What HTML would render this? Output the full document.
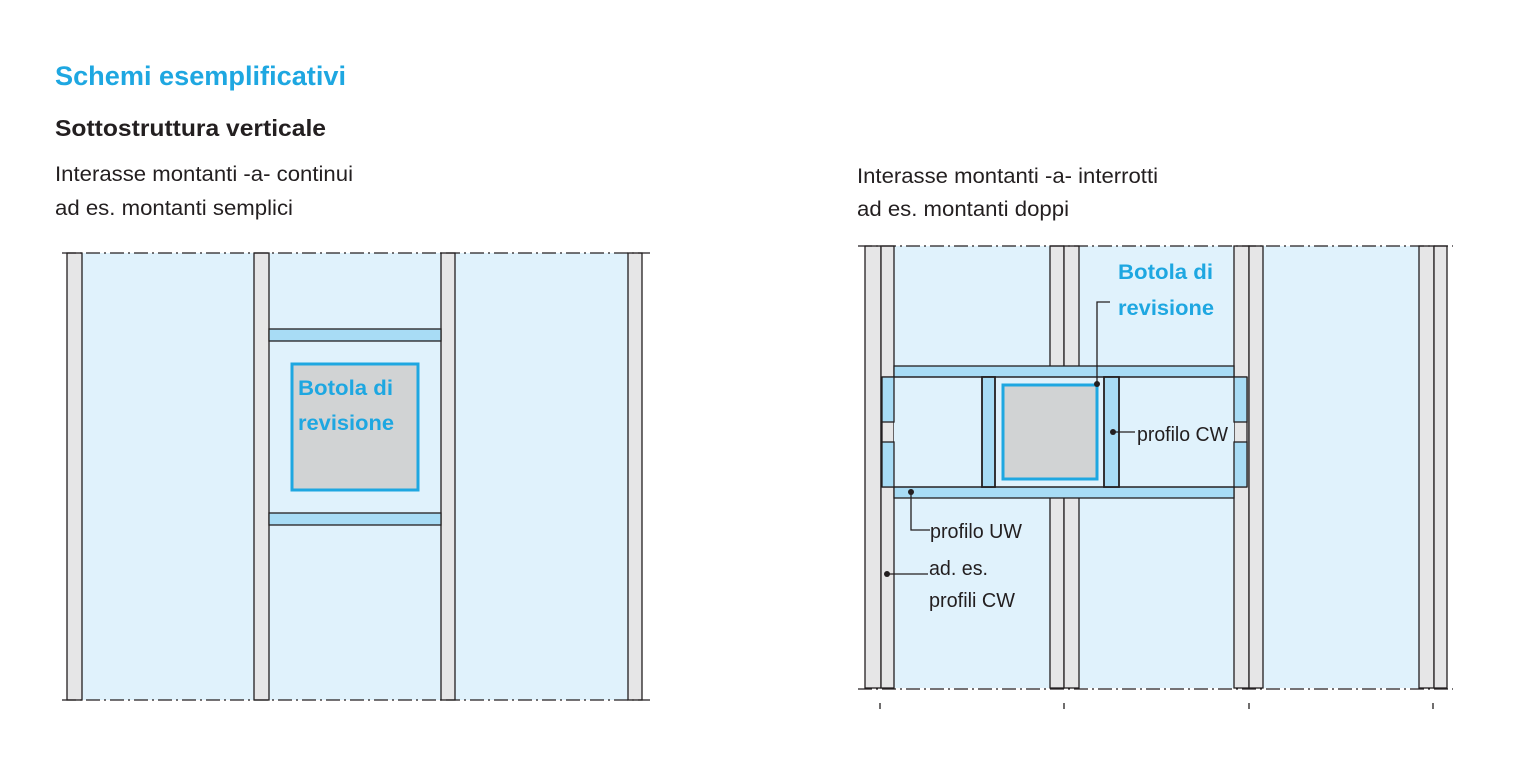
<!DOCTYPE html>
<html><head><meta charset="utf-8"><style>
html,body{margin:0;padding:0;background:#fff;}
svg{display:block;}
text{font-family:"Liberation Sans",Arial,sans-serif;}
</style></head><body>
<svg width="1530" height="776" viewBox="0 0 1530 776" xmlns="http://www.w3.org/2000/svg">
<rect width="1530" height="776" fill="#fff"/>
<!-- headings -->
<text x="55" y="85" font-size="27" font-weight="bold" fill="#1ea7e1" textLength="291" lengthAdjust="spacingAndGlyphs">Schemi esemplificativi</text>
<text x="55" y="136" font-size="23" font-weight="bold" fill="#231f20" textLength="271" lengthAdjust="spacingAndGlyphs">Sottostruttura verticale</text>
<text x="55" y="181" font-size="21" fill="#231f20" textLength="298" lengthAdjust="spacingAndGlyphs">Interasse montanti -a- continui</text>
<text x="55" y="215" font-size="21" fill="#231f20" textLength="238" lengthAdjust="spacingAndGlyphs">ad es. montanti semplici</text>
<text x="857" y="183" font-size="21" fill="#231f20" textLength="301" lengthAdjust="spacingAndGlyphs">Interasse montanti -a- interrotti</text>
<text x="857" y="216" font-size="21" fill="#231f20" textLength="212" lengthAdjust="spacingAndGlyphs">ad es. montanti doppi</text>

<!-- LEFT DIAGRAM -->
<g stroke="#231f20" stroke-width="1.3">
<rect x="82" y="253" width="172" height="447" fill="#e0f2fc" stroke="none"/>
<rect x="269" y="253" width="172" height="447" fill="#e0f2fc" stroke="none"/>
<rect x="455" y="253" width="173" height="447" fill="#e0f2fc" stroke="none"/>
<rect x="67" y="253" width="15" height="447" fill="#e6e6e7"/>
<rect x="254" y="253" width="15" height="447" fill="#e6e6e7"/>
<rect x="441" y="253" width="14" height="447" fill="#e6e6e7"/>
<rect x="628" y="253" width="14" height="447" fill="#e6e6e7"/>
<rect x="269" y="329" width="172" height="12" fill="#a8dcf5"/>
<rect x="269" y="513" width="172" height="12" fill="#a8dcf5"/>
<line x1="62" y1="253" x2="650" y2="253" stroke-dasharray="14,4,2,4"/>
<line x1="62" y1="700" x2="650" y2="700" stroke-dasharray="14,4,2,4"/>
</g>
<rect x="292" y="364" width="126" height="126" fill="#d1d3d4" stroke="#1ea7e1" stroke-width="3"/>
<text x="298" y="395" font-size="21" font-weight="bold" fill="#1ea7e1" textLength="95" lengthAdjust="spacingAndGlyphs">Botola di</text>
<text x="298" y="430" font-size="21" font-weight="bold" fill="#1ea7e1" textLength="96" lengthAdjust="spacingAndGlyphs">revisione</text>

<!-- RIGHT DIAGRAM -->
<g stroke="#231f20" stroke-width="1.3">
<rect x="894" y="246" width="156" height="442" fill="#e0f2fc" stroke="none"/>
<rect x="1079" y="246" width="155" height="442" fill="#e0f2fc" stroke="none"/>
<rect x="1263" y="246" width="156" height="442" fill="#e0f2fc" stroke="none"/>
<rect x="865" y="246" width="16" height="442" fill="#e6e6e7"/>
<rect x="881" y="246" width="13" height="442" fill="#e6e6e7"/>
<rect x="1050" y="246" width="14" height="442" fill="#e6e6e7"/>
<rect x="1064" y="246" width="15" height="442" fill="#e6e6e7"/>
<rect x="1234" y="246" width="15" height="442" fill="#e6e6e7"/>
<rect x="1249" y="246" width="14" height="442" fill="#e6e6e7"/>
<rect x="1419" y="246" width="15" height="442" fill="#e6e6e7"/>
<rect x="1434" y="246" width="13" height="442" fill="#e6e6e7"/>
<!-- band -->
<rect x="894" y="366" width="340" height="132" fill="#e0f2fc" stroke="none"/>
<rect x="894" y="366" width="340" height="11" fill="#a8dcf5"/>
<rect x="894" y="487" width="340" height="11" fill="#a8dcf5"/>
<line x1="882" y1="377" x2="1247" y2="377"/>
<line x1="882" y1="487" x2="1247" y2="487"/>
<line x1="882" y1="377" x2="882" y2="487"/>
<line x1="1247" y1="377" x2="1247" y2="487"/>
<rect x="882" y="377" width="12" height="45" fill="#a8dcf5"/>
<rect x="882" y="442" width="12" height="45" fill="#a8dcf5"/>
<rect x="1234" y="377" width="13" height="45" fill="#a8dcf5"/>
<rect x="1234" y="442" width="13" height="45" fill="#a8dcf5"/>
<rect x="982" y="377" width="13" height="110" fill="#a8dcf5" stroke-width="1.8"/>
<rect x="1104" y="377" width="15" height="110" fill="#a8dcf5" stroke-width="1.8"/>
<line x1="858" y1="246" x2="1453" y2="246" stroke-dasharray="14,4,2,4"/>
<line x1="858" y1="689" x2="1453" y2="689" stroke-dasharray="14,4,2,4"/>
<line x1="880" y1="703" x2="880" y2="709"/>
<line x1="1064" y1="703" x2="1064" y2="709"/>
<line x1="1249" y1="703" x2="1249" y2="709"/>
<line x1="1433" y1="703" x2="1433" y2="709"/>
</g>
<rect x="1003" y="385" width="94" height="94" fill="#d1d3d4" stroke="#1ea7e1" stroke-width="3"/>
<text x="1118" y="279" font-size="21" font-weight="bold" fill="#1ea7e1" textLength="95" lengthAdjust="spacingAndGlyphs">Botola di</text>
<text x="1118" y="315" font-size="21" font-weight="bold" fill="#1ea7e1" textLength="96" lengthAdjust="spacingAndGlyphs">revisione</text>
<!-- leaders -->
<g stroke="#231f20" stroke-width="1.3" fill="none">
<polyline points="1097,384 1097,302 1110,302"/>
<line x1="1113" y1="432" x2="1135" y2="432"/>
<polyline points="911,492 911,530 930,530"/>
<line x1="887" y1="574" x2="928" y2="574"/>
</g>
<g fill="#231f20">
<circle cx="1097" cy="384" r="3"/>
<circle cx="1113" cy="432" r="3"/>
<circle cx="911" cy="492" r="3"/>
<circle cx="887" cy="574" r="3"/>
</g>
<text x="1137" y="441" font-size="20" fill="#231f20" textLength="91" lengthAdjust="spacingAndGlyphs">profilo CW</text>
<text x="930" y="538" font-size="20" fill="#231f20" textLength="92" lengthAdjust="spacingAndGlyphs">profilo UW</text>
<text x="929" y="575" font-size="20" fill="#231f20" textLength="59" lengthAdjust="spacingAndGlyphs">ad. es.</text>
<text x="929" y="607" font-size="20" fill="#231f20" textLength="86" lengthAdjust="spacingAndGlyphs">profili CW</text>
</svg>
</body></html>
